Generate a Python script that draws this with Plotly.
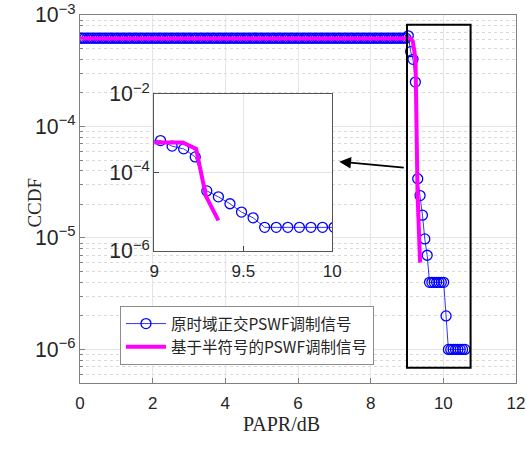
import plotly.graph_objects as go

# ---------------- data ----------------
papr_db = [
    0, 0.065, 0.13, 0.195, 0.26, 0.325, 0.39, 0.455, 0.52, 0.585,
    0.65, 0.715, 0.78, 0.845, 0.91, 0.975, 1.04, 1.105, 1.17, 1.235,
    1.3, 1.365, 1.43, 1.495, 1.56, 1.625, 1.69, 1.755, 1.82, 1.885,
    1.95, 2.015, 2.08, 2.145, 2.21, 2.275, 2.34, 2.405, 2.47, 2.535,
    2.6, 2.665, 2.73, 2.795, 2.86, 2.925, 2.99, 3.055, 3.12, 3.185,
    3.25, 3.315, 3.38, 3.445, 3.51, 3.575, 3.64, 3.705, 3.77, 3.835,
    3.9, 3.965, 4.03, 4.095, 4.16, 4.225, 4.29, 4.355, 4.42, 4.485,
    4.55, 4.615, 4.68, 4.745, 4.81, 4.875, 4.94, 5.005, 5.07, 5.135,
    5.2, 5.265, 5.33, 5.395, 5.46, 5.525, 5.59, 5.655, 5.72, 5.785,
    5.85, 5.915, 5.98, 6.045, 6.11, 6.175, 6.24, 6.305, 6.37, 6.435,
    6.5, 6.565, 6.63, 6.695, 6.76, 6.825, 6.89, 6.955, 7.02, 7.085,
    7.15, 7.215, 7.28, 7.345, 7.41, 7.475, 7.54, 7.605, 7.67, 7.735,
    7.8, 7.865, 7.93, 7.995, 8.06, 8.125, 8.19, 8.255, 8.32, 8.385,
    8.45, 8.515, 8.58, 8.645, 8.71, 8.775, 8.84, 8.905, 8.97, 9.035,
    9.1, 9.165, 9.23, 9.295, 9.36, 9.425, 9.49, 9.555, 9.62, 9.685,
    9.75, 9.815, 9.88, 9.945, 10.01, 10.075, 10.14, 10.205, 10.27, 10.335,
    10.4, 10.465, 10.53, 10.595,
]
ccdf_orig = [
    6.2e-4, 6.2e-4, 6.2e-4, 6.2e-4, 6.2e-4, 6.2e-4, 6.2e-4, 6.2e-4, 6.2e-4, 6.2e-4,
    6.2e-4, 6.2e-4, 6.2e-4, 6.2e-4, 6.2e-4, 6.2e-4, 6.2e-4, 6.2e-4, 6.2e-4, 6.2e-4,
    6.2e-4, 6.2e-4, 6.2e-4, 6.2e-4, 6.2e-4, 6.2e-4, 6.2e-4, 6.2e-4, 6.2e-4, 6.2e-4,
    6.2e-4, 6.2e-4, 6.2e-4, 6.2e-4, 6.2e-4, 6.2e-4, 6.2e-4, 6.2e-4, 6.2e-4, 6.2e-4,
    6.2e-4, 6.2e-4, 6.2e-4, 6.2e-4, 6.2e-4, 6.2e-4, 6.2e-4, 6.2e-4, 6.2e-4, 6.2e-4,
    6.2e-4, 6.2e-4, 6.2e-4, 6.2e-4, 6.2e-4, 6.2e-4, 6.2e-4, 6.2e-4, 6.2e-4, 6.2e-4,
    6.2e-4, 6.2e-4, 6.2e-4, 6.2e-4, 6.2e-4, 6.2e-4, 6.2e-4, 6.2e-4, 6.2e-4, 6.2e-4,
    6.2e-4, 6.2e-4, 6.2e-4, 6.2e-4, 6.2e-4, 6.2e-4, 6.2e-4, 6.2e-4, 6.2e-4, 6.2e-4,
    6.2e-4, 6.2e-4, 6.2e-4, 6.2e-4, 6.2e-4, 6.2e-4, 6.2e-4, 6.2e-4, 6.2e-4, 6.2e-4,
    6.2e-4, 6.2e-4, 6.2e-4, 6.2e-4, 6.2e-4, 6.2e-4, 6.2e-4, 6.2e-4, 6.2e-4, 6.2e-4,
    6.2e-4, 6.2e-4, 6.2e-4, 6.2e-4, 6.2e-4, 6.2e-4, 6.2e-4, 6.2e-4, 6.2e-4, 6.2e-4,
    6.2e-4, 6.2e-4, 6.2e-4, 6.2e-4, 6.2e-4, 6.2e-4, 6.2e-4, 6.2e-4, 6.2e-4, 6.2e-4,
    6.2e-4, 6.2e-4, 6.2e-4, 6.2e-4, 6.2e-4, 6.2e-4, 6.2e-4, 6.2e-4, 6.2e-4, 6.2e-4,
    6.2e-4, 6.2e-4, 6.2e-4, 6.2e-4, 6.2e-4, 6.2e-4, 6.2e-4, 6.2e-4, 6.2e-4, 6.5e-4,
    4.7e-4, 4.0e-4, 2.5e-4, 3.4e-5, 2.4e-5, 1.6e-5, 9.8e-6, 7.0e-6, 4.0e-6, 4.0e-6,
    4.0e-6, 4.0e-6, 4.0e-6, 4.0e-6, 4.0e-6, 2.0e-6, 1.0e-6, 1.0e-6, 1.0e-6, 1.0e-6,
    1.0e-6, 1.0e-6, 1.0e-6, 1.0e-6,
]
papr_half = [0, 9.1, 9.16, 9.235, 9.29, 9.36]
ccdf_half = [6.15e-4, 6.15e-4, 5.8e-4, 4.0e-4, 2.5e-5, 6.0e-6]

name_orig = "原时域正交PSWF调制信号"
name_half = "基于半符号的PSWF调制信号"

main_xticks = [0, 2, 4, 6, 8, 10, 12]
inset_xticks = [9, 9.5, 10]

# ---------------- styles ----------------
BLUE = "#0000ff"
MAGENTA = "#ff00ff"
SANS = "Liberation Sans, Arial, sans-serif"
SERIF = "Liberation Serif, Times New Roman, serif"
CJK = "Noto Sans CJK SC, sans-serif"
TICKC = "#262626"
AXC = "#808080"
GRIDC = "#e4e4e4"

fig = go.Figure()

for xa, ya, show in (("x", "y", True), ("x2", "y2", False)):
    fig.add_trace(go.Scatter(
        x=papr_db, y=ccdf_orig, name=name_orig, mode="lines+markers",
        line=dict(color=BLUE, width=0.8),
        marker=dict(symbol="circle-open", size=10, color=BLUE, line=dict(width=1.3)),
        xaxis=xa, yaxis=ya, showlegend=show, legendgroup="a",
    ))
    fig.add_trace(go.Scatter(
        x=papr_half, y=ccdf_half, name=name_half, mode="lines",
        line=dict(color=MAGENTA, width=4),
        xaxis=xa, yaxis=ya, showlegend=show, legendgroup="b",
    ))

fig.update_layout(
    width=527, height=452,
    margin=dict(l=80, r=11, t=15, b=69),
    paper_bgcolor="white", plot_bgcolor="white",
    xaxis=dict(
        range=[0, 12], tickvals=main_xticks, ticks="inside", ticklen=5,
        tickcolor=AXC, automargin=False, ticklabelstandoff=5,
        showline=True, linecolor=AXC, linewidth=1, mirror=True,
        showgrid=True, gridcolor=GRIDC, zeroline=False,
        tickfont=dict(family=SANS, size=17, color=TICKC),
    ),
    yaxis=dict(
        type="log", range=[-6.301, -3], dtick=1, exponentformat="power",
        showexponent="all", ticks="inside", ticklen=5, tickcolor=AXC,
        automargin=False,
        showline=True, linecolor=AXC, linewidth=1, mirror=True,
        showgrid=True, gridcolor=GRIDC, zeroline=False,
        minor=dict(dtick="D1", ticks="inside", ticklen=3, tickcolor=AXC,
                   showgrid=True, gridcolor="#d9d9d9", griddash="dot"),
        tickfont=dict(family=SANS, size=17, color=TICKC),
    ),
    xaxis2=dict(
        domain=[0.1704, 0.5787], anchor="y2", range=[9, 10], tickvals=inset_xticks,
        ticks="inside", ticklen=5, showline=True, linecolor="#555555", mirror=True,
        showgrid=True, gridcolor=GRIDC, zeroline=False, automargin=False,
        ticklabelstandoff=5,
        tickfont=dict(family=SANS, size=17, color=TICKC),
    ),
    yaxis2=dict(
        domain=[0.3587, 0.7853], anchor="x2", type="log", range=[-6, -2], dtick=2,
        exponentformat="power", showexponent="all", automargin=False,
        ticks="inside", ticklen=5, showline=True, linecolor="#555555", mirror=True,
        showgrid=True, gridcolor=GRIDC, zeroline=False,
        tickfont=dict(family=SANS, size=17, color=TICKC),
    ),
    legend=dict(
        x=0.0917, y=0.2092, xanchor="left", yanchor="top",
        bgcolor="white", bordercolor="#8c8c8c", borderwidth=1,
        font=dict(family=CJK, size=15.5, color=TICKC),
        itemwidth=40, traceorder="grouped", tracegroupgap=0,
    ),
    showlegend=True,
)

fig.add_shape(type="rect", xref="x", yref="paper", x0=9.0, x1=10.75,
              y0=0.0416, y1=0.9736, line=dict(color="black", width=2),
              fillcolor="rgba(0,0,0,0)", layer="above")

fig.add_annotation(xref="paper", yref="paper", x=0.5947, y=0.6014, ax=66, ay=6,
                   text="", showarrow=True, arrowhead=2, arrowsize=1.3,
                   arrowwidth=1.8, arrowcolor="black")

fig.add_annotation(xref="paper", yref="paper", x=-0.133, y=0.489, text="CCDF",
                   showarrow=False, textangle=-90,
                   font=dict(family=SERIF, size=19, color=TICKC))
fig.add_annotation(xref="paper", yref="paper", x=0.463, y=-0.147, text="PAPR/dB",
                   showarrow=False, font=dict(family=SERIF, size=20, color=TICKC))

# remove the default 8px page margin so the figure fills the window exactly
fig.write_html(
    "out.html",
    config={"displayModeBar": False},
    post_script="document.body.style.margin='0';document.body.style.overflow='hidden';",
)
